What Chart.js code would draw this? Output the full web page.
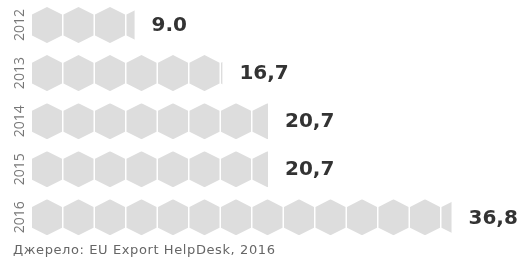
<!DOCTYPE html>
<html>
<head>
<meta charset="utf-8">
<script src="https://cdn.jsdelivr.net/npm/chart.js@4/dist/chart.umd.min.js"></script>
<style>
  html, body { margin: 0; padding: 0; background: #ffffff; }
  #wrap { width: 527px; height: 260px; position: relative; }
</style>
</head>
<body>
<div id="wrap"><canvas id="c" width="527" height="260"></canvas></div>
<script>
// ---- data ----
const years = ["2012", "2013", "2014", "2015", "2016"];
const values = [9.0, 16.7, 20.7, 20.7, 36.8];
const valueLabels = ["9.0", "16,7", "20,7", "20,7", "36,8"];
const sourceText = "Джерело: EU Export HelpDesk, 2016";

const HEX_COLOR = "#dddddd";

const hexPlugin = {
  id: "hexBars",
  afterDatasetsDraw(chart) {
    const ctx = chart.ctx;
    const meta = chart.getDatasetMeta(0);
    const yScale = chart.scales.y;
    meta.data.forEach((bar, i) => {
      const p = bar.getProps(["x", "y", "base", "height"], true);
      const top = p.y - p.height / 2;
      const h = p.height;
      const w = 30, period = 31.5, s = 0.21;
      ctx.save();
      ctx.beginPath();
      ctx.rect(p.base, top, p.x - p.base, h);
      ctx.clip();
      ctx.fillStyle = HEX_COLOR;
      for (let cx = p.base + w / 2; cx - w / 2 < p.x; cx += period) {
        ctx.beginPath();
        ctx.moveTo(cx, top);
        ctx.lineTo(cx + w / 2, top + s * h);
        ctx.lineTo(cx + w / 2, top + (1 - s) * h);
        ctx.lineTo(cx, top + h);
        ctx.lineTo(cx - w / 2, top + (1 - s) * h);
        ctx.lineTo(cx - w / 2, top + s * h);
        ctx.closePath();
        ctx.fill();
      }
      ctx.restore();

      // value label
      ctx.save();
      ctx.font = "bold 20px 'DejaVu Sans'";
      ctx.fillStyle = "#333333";
      ctx.textBaseline = "middle";
      ctx.textAlign = "left";
      ctx.fillText(valueLabels[i], p.x + 17, p.y + 1);
      ctx.restore();

      // year label (rotated)
      const yy = yScale.getPixelForValue(i);
      ctx.save();
      ctx.translate(20.5, yy);
      ctx.rotate(-Math.PI / 2);
      ctx.font = "14px 'Open Sans'";
      ctx.fillStyle = "#777777";
      ctx.textAlign = "center";
      ctx.textBaseline = "middle";
      ctx.fillText(chart.data.labels[i], 0, 0);
      ctx.restore();
    });
  },
  afterDraw(chart) {
    const ctx = chart.ctx;
    ctx.save();
    ctx.font = "13px 'DejaVu Sans'";
    if ("letterSpacing" in ctx) ctx.letterSpacing = "0.6px";
    ctx.fillStyle = "#666666";
    ctx.textAlign = "left";
    ctx.textBaseline = "alphabetic";
    ctx.fillText(sourceText, 13, 253.5);
    ctx.restore();
  }
};

new Chart(document.getElementById("c"), {
  type: "bar",
  data: {
    labels: years,
    datasets: [{
      data: values,
      backgroundColor: "rgba(0,0,0,0)",
      borderWidth: 0,
      barThickness: 36
    }]
  },
  options: {
    indexAxis: "y",
    responsive: false,
    animation: false,
    events: [],
    layout: { padding: { left: 3, right: 39, top: 1, bottom: 18.6 } },
    scales: {
      x: { display: false, min: 0, max: 40 },
      y: {
        display: true,
        grid: { display: false },
        border: { display: false },
        ticks: { display: false },
        afterFit: (s) => { s.width = 29; }
      }
    },
    plugins: {
      legend: { display: false },
      tooltip: { enabled: false },
      title: { display: false }
    }
  },
  plugins: [hexPlugin]
});
</script>
</body>
</html>
